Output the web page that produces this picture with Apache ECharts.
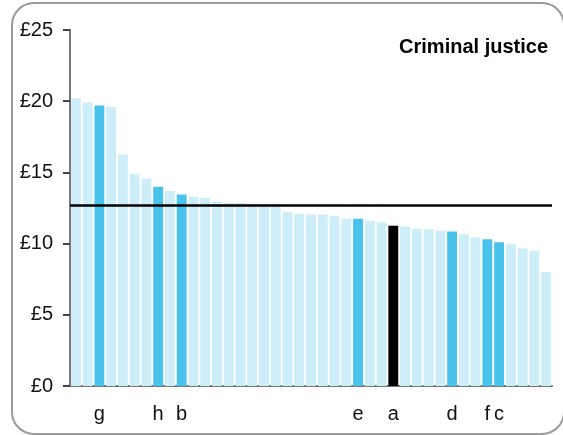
<!DOCTYPE html>
<html>
<head>
	<meta charset="utf-8"/>
	<title>Criminal justice</title>
	<style>
		* { margin: 0; padding: 0; }
		body { background: #fff; }
	</style>
</head>
<body>
	<div id="myChart" style="width: 563px; height: 435px;"></div>

	<script src="https://cdn.jsdelivr.net/npm/echarts@6/dist/echarts.min.js"></script>
	<script>
		// one bar per area, sorted high to low; letters only on the highlighted ones
		var labels = ['', '', 'g', '', '', '', '', 'h', '', 'b',
			'', '', '', '', '', '', '', '', '', '',
			'', '', '', '', 'e', '', '', 'a', '', '',
			'', '', 'd', '', '', 'f', 'c', '', '', '',
			''];
		var values = [20.2, 19.9, 19.7, 19.6, 16.25, 14.9, 14.55, 14.0, 13.7, 13.45,
			13.3, 13.2, 12.95, 12.85, 12.85, 12.75, 12.75, 12.75, 12.2, 12.1,
			12.05, 12.05, 11.95, 11.75, 11.75, 11.6, 11.5, 11.25, 11.2, 11.05,
			11.0, 10.9, 10.85, 10.65, 10.45, 10.3, 10.1, 9.95, 9.65, 9.5,
			8.0];
		var average = 12.7;
		var yTicks = [0, 5, 10, 15, 20, 25];
		var selected = 'a';

		var myChart = echarts.init(document.getElementById('myChart'));

		var barData = values.map(function (v, i) {
			var col = '#cdedf9';
			if (labels[i] === selected) col = '#000000';
			else if (labels[i] !== '') col = '#49c2ec';
			return { value: v, itemStyle: { color: col } };
		});

		var option = {
			animation: false,
			textStyle: { fontFamily: 'Liberation Sans, Arial, sans-serif' },
			graphic: [
				{
					type: 'rect',
					shape: { x: 12, y: 3, width: 552, height: 431, r: 22 },
					style: { fill: 'none', stroke: '#9a9a9a', lineWidth: 2 }
				}
			],
			title: {
				text: 'Criminal justice',
				right: 10,
				top: 32,
				textStyle: { fontSize: 20, fontWeight: 'bold', color: '#000' }
			},
			grid: { left: 70, right: 11, top: 30, bottom: 49 },
			xAxis: {
				type: 'category',
				data: labels,
				axisLine: { lineStyle: { color: '#777', width: 2 } },
				axisTick: { show: false },
				axisLabel: { interval: 0, margin: 18, fontSize: 20, color: '#111' }
			},
			yAxis: {
				type: 'value',
				min: yTicks[0],
				max: yTicks[yTicks.length - 1],
				interval: 5,
				splitLine: { show: false },
				axisLine: { show: true, lineStyle: { color: '#777', width: 2 } },
				axisTick: { show: true, length: 7, lineStyle: { color: '#444', width: 2 } },
				axisLabel: {
					margin: 17, fontSize: 20, color: '#111',
					formatter: function (v) { return '£' + v; }
				}
			},
			series: [
				{
					type: 'bar',
					data: barData,
					barCategoryGap: '16%',
					markLine: {
						silent: true,
						symbol: 'none',
						label: { show: false },
						lineStyle: { color: '#000', width: 2.5, type: 'solid' },
						data: [{ yAxis: average }]
					}
				}
			]
		};

		myChart.setOption(option);
	</script>
</body>
</html>
